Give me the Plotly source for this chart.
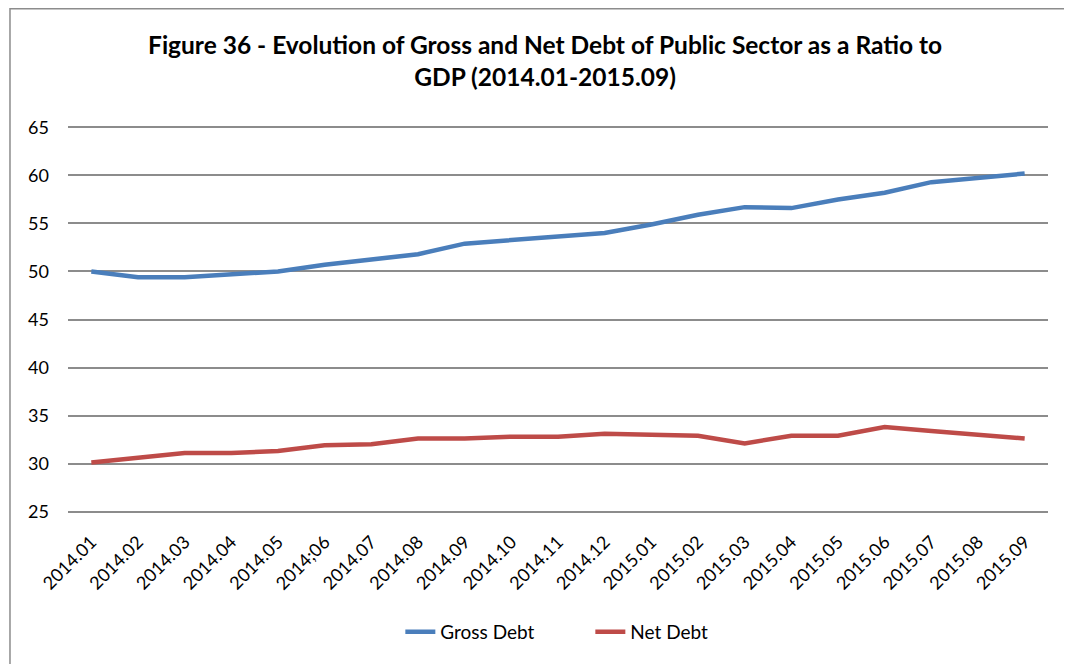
import plotly.graph_objects as go

months = ["2014.01", "2014.02", "2014.03", "2014.04", "2014.05", "2014;06", "2014.07",
          "2014.08", "2014.09", "2014.10", "2014.11", "2014.12", "2015.01", "2015.02",
          "2015.03", "2015.04", "2015.05", "2015.06", "2015.07", "2015.08", "2015.09"]
gross_debt = [50.0, 49.4, 49.4, 49.7, 50.0, 50.7, 51.2, 51.8, 52.9, 53.3, 53.6,
              54.0, 54.9, 55.9, 56.7, 56.6, 57.5, 58.2, 59.3, 59.8, 60.2]
net_debt = [30.1, 30.6, 31.1, 31.1, 31.3, 31.9, 32.0, 32.6, 32.6, 32.8, 32.8,
            33.1, 33.0, 32.9, 32.1, 32.9, 32.9, 33.8, 33.4, 33.0, 32.6]

font = "Lato, 'Open Sans', sans-serif"

fig = go.Figure()
fig.add_trace(go.Scatter(x=months, y=gross_debt, mode="lines", name="Gross Debt",
                         line=dict(color="#4a7ebb", width=4.5)))
fig.add_trace(go.Scatter(x=months, y=net_debt, mode="lines", name="Net Debt",
                         line=dict(color="#be4b48", width=4.5)))

# the page body adds an 8px offset, so margins are shifted by 8px
fig.update_layout(
    width=1072, height=664,
    margin=dict(l=60, r=32, t=118, b=159),
    paper_bgcolor="white", plot_bgcolor="white",
    font=dict(family=font, color="black", size=17),
    title=dict(text="<b>Figure 36 - Evolution of Gross and Net Debt of Public Sector as a Ratio to<br>GDP (2014.01-2015.09)</b>",
               x=0.501, xanchor="center", y=0.931, yanchor="middle",
               font=dict(size=24.5, family=font)),
    showlegend=True,
    legend=dict(orientation="h", x=0.533, xanchor="center", y=-0.258, yanchor="top",
                font=dict(size=19), entrywidth=145, entrywidthmode="pixels"),
    shapes=[dict(type="rect", xref="paper", yref="paper",
                 x0=-0.0592, x1=1.0204, y0=-0.5, y1=1.303,
                 line=dict(color="#8c8c8c", width=1.5))],
)
fig.update_xaxes(type="category", tickangle=-45, showgrid=False, showline=False,
                 zeroline=False, tickfont=dict(size=18), range=[-0.5, 20.5],
                 automargin=False, ticklabelstandoff=14)
fig.update_yaxes(range=[24.85, 65.15], tickvals=[25, 30, 35, 40, 45, 50, 55, 60, 65],
                 showgrid=True, gridcolor="#8c8c8c",
                 gridwidth=1.5, zeroline=False, showline=False, automargin=False,
                 ticklabelstandoff=18, tickfont=dict(size=18))

fig.write_html("out.html")
